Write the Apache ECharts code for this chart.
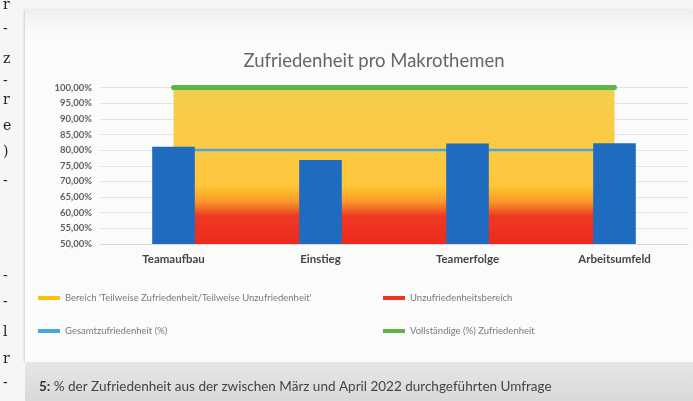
<!DOCTYPE html>
<html>
<head>
<meta charset="utf-8">
<script src="https://cdn.jsdelivr.net/npm/echarts@6/dist/echarts.min.js"></script>
<style>
  html, body { margin: 0; padding: 0; width: 693px; height: 401px; overflow: hidden; background: #f6f6f6; }
  #panel { position: absolute; left: 25px; top: 10px; width: 668px; height: 352px;
           background: linear-gradient(#efefef 0px, #fbfbfb 24px, #fbfbfb 100%); box-shadow: -1px 0 2px #cfcfcf; }
  #band { position: absolute; left: 25px; top: 362px; width: 668px; height: 39px;
          background: linear-gradient(#e6e6e6, #d9d9d9); }
  #chart { position: absolute; left: 0; top: 0; width: 693px; height: 401px; }
</style>
</head>
<body>
<div id="panel"></div>
<div id="band"></div>
<div id="chart"></div>
<script>
// ---- data ----
const categories = ['Teamaufbau', 'Einstieg', 'Teamerfolge', 'Arbeitsumfeld'];
const gesamtZufriedenheit = [81.1, 76.8, 82.1, 82.2];      // blue bars (%)
const bereichTeilweise = [100, 100, 100, 100];             // yellow area upper bound (%)
const bereichUnzufrieden = [68, 68, 68, 68];                // red area upper bound (%)
const schwelleGesamt = [80, 80, 80, 80];                   // light blue line (%)
const vollstaendig = [100, 100, 100, 100];                 // green line (%)
const yTicks = { min: 50, max: 100, step: 5 };
const legendNames = [
  "Bereich 'Teilweise Zufriedenheit/Teilweise Unzufriedenheit'",
  'Unzufriedenheitsbereich',
  'Gesamtzufriedenheit (%)',
  'Vollständige (%) Zufriedenheit'
];
const titleText = 'Zufriedenheit pro Makrothemen';
const captionBold = '5:';
const captionText = '% der Zufriedenheit aus der zwischen März und April 2022 durchgeführten Umfrage';
const marginGlyphs = [['r', 6], ['-', 30], ['z', 60], ['-', 82], ['r', 101], ['e', 127], [')', 153], ['-', 182],
                      ['-', 277], ['-', 303], ['l', 333], ['r', 360], ['-', 384]];

const chart = echarts.init(document.getElementById('chart'));

const legendText = { fontSize: 9.5, color: '#7a7a7a', fontFamily: 'Lato' };
function oneLegend(name, left, top) {
  return { data: [name], left: left, top: top, icon: 'rect', itemWidth: 22, itemHeight: 4,
           itemGap: 0, textStyle: legendText, padding: 0, selectedMode: false };
}

chart.setOption({
  animation: false,
  textStyle: { fontFamily: 'Lato' },
  title: [
    { text: titleText, left: 369, top: 47, textAlign: 'center',
      textStyle: { fontSize: 18.5, fontWeight: 'normal', color: '#666666', fontFamily: 'Lato' } },
    { text: '{b|' + captionBold + '} ' + captionText, left: 34, top: 375,
      textStyle: { rich: { b: { fontWeight: 'bold', fontSize: 13.5, color: '#333', fontFamily: 'Lato' } },
                   fontSize: 13.5, fontWeight: 'normal', color: '#444', fontFamily: 'Lato' } }
  ],
  legend: [
    oneLegend(legendNames[0], 38, 293),
    oneLegend(legendNames[1], 383, 293),
    oneLegend(legendNames[2], 38, 326),
    oneLegend(legendNames[3], 383, 326)
  ],
  grid: { left: 100, right: 5, top: 87.5, bottom: 157, containLabel: false },
  xAxis: {
    type: 'category', data: categories, boundaryGap: true,
    axisLine: { lineStyle: { color: '#d9d9d9' } }, axisTick: { show: false },
    axisLabel: { fontSize: 11.5, fontWeight: 'bold', color: '#454545', margin: 9 }
  },
  yAxis: {
    type: 'value', min: yTicks.min, max: yTicks.max, interval: yTicks.step,
    axisLine: { show: false }, axisTick: { show: false },
    splitLine: { lineStyle: { color: '#e3e3e3' } },
    axisLabel: { fontSize: 9.5, fontWeight: 'bold', color: '#5e5e5e', margin: 8,
                 formatter: v => v.toFixed(2).replace('.', ',') + '%' }
  },
  series: [
    { name: legendNames[0], type: 'line', data: bereichTeilweise, symbol: 'none', z: 1,
      itemStyle: { color: '#FFC000' }, lineStyle: { width: 0 },
      areaStyle: { opacity: 1, color: { type: 'linear', x: 0, y: 0, x2: 0, y2: 1, colorStops: [
        { offset: 0, color: '#DCD452' }, { offset: 0.06, color: '#F7CD4A' },
        { offset: 0.4, color: '#FDC943' }, { offset: 1, color: '#FFC22E' }] } } },
    { name: legendNames[1], type: 'line', data: bereichUnzufrieden, symbol: 'none', z: 2,
      itemStyle: { color: '#EE3322' }, lineStyle: { width: 0 },
      areaStyle: { opacity: 1, color: { type: 'linear', x: 0, y: 0, x2: 0, y2: 1, colorStops: [
        { offset: 0, color: '#FFC22E' }, { offset: 0.25, color: '#F9982A' },
        { offset: 0.5, color: '#EE3A22' }, { offset: 1, color: '#EC2A1F' }] } } },
    { name: 'Zufriedenheit', type: 'bar', data: gesamtZufriedenheit, barWidth: '29%', z: 6,
      itemStyle: { color: '#1F6BC0' } },
    { name: legendNames[2], type: 'line', data: schwelleGesamt, symbol: 'none', z: 4,
      itemStyle: { color: '#4AA6DE' }, lineStyle: { width: 2.5, color: '#4AA6DE' } },
    { name: legendNames[3], type: 'line', data: vollstaendig, symbol: 'none', z: 5,
      itemStyle: { color: '#5CB548' }, lineStyle: { width: 5, color: '#5CB548', cap: 'round' } }
  ],
  graphic: marginGlyphs.map(g => ({
    type: 'text', left: 3, top: g[1] - 8, z: 100,
    style: { text: g[0], fontSize: 14, fontFamily: 'DejaVu Serif', fill: '#222' }
  }))
});
</script>
</body>
</html>
